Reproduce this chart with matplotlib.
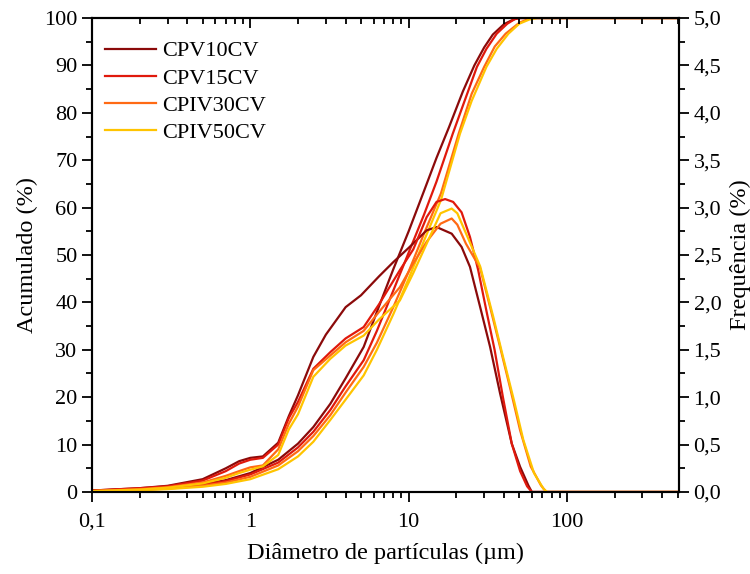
import matplotlib
matplotlib.use("Agg")
import matplotlib.pyplot as plt
from matplotlib.ticker import FixedLocator, LogLocator, MultipleLocator, FuncFormatter, NullFormatter

plt.rcParams["font.family"] = ["Liberation Serif", "DejaVu Serif"]

labels = ["CPV10CV", "CPV15CV", "CPIV30CV", "CPIV50CV"]
colors = ["#8B0A0A", "#E0190C", "#FF6A14", "#FFC400"]

# cumulative curves (left axis, %)
cum_x = [
    [0.1, 0.2, 0.3, 0.5, 0.7, 1.0, 1.5, 2.0, 2.5, 3.2, 4.0, 5.2, 6.3, 8.0, 10, 12.5, 15, 18, 22, 26, 30, 34, 40, 46, 50, 510],
    [0.1, 0.2, 0.3, 0.5, 0.7, 1.0, 1.5, 2.0, 2.5, 3.2, 4.0, 5.2, 6.3, 8.0, 10, 12.5, 15, 19, 22, 27, 31, 36, 42, 47, 51, 510],
    [0.1, 0.2, 0.3, 0.5, 0.7, 1.0, 1.5, 2.0, 2.5, 3.2, 4.0, 5.2, 6.3, 8.0, 10, 12.5, 16, 20.7, 25, 30, 35, 41, 50, 57, 62, 510],
    [0.1, 0.2, 0.3, 0.5, 0.7, 1.0, 1.5, 2.0, 2.5, 3.2, 4.0, 5.2, 6.3, 8.0, 10, 12.5, 16, 21.1, 25, 31, 36, 42.7, 50, 58, 65, 510],
]
cum_y = [
    [0.3, 0.6, 0.9, 1.6, 2.5, 4.0, 6.8, 10.2, 13.7, 18.6, 24.0, 30.6, 38.0, 47.0, 55.0, 63.5, 70.5, 77.0, 84.5, 90.0, 93.8, 96.5, 98.7, 99.7, 100, 100],
    [0.3, 0.55, 0.85, 1.5, 2.3, 3.7, 6.2, 9.4, 12.7, 17.3, 22.3, 27.8, 34.0, 42.5, 50.5, 58.5, 65.5, 75.6, 81.5, 89.7, 93.5, 96.7, 98.8, 99.8, 100, 100],
    [0.2, 0.45, 0.7, 1.3, 2.0, 3.2, 5.6, 8.6, 11.8, 16.2, 21.0, 26.4, 31.5, 39.0, 46.5, 54.5, 63.0, 75.6, 84.0, 89.7, 94.0, 96.7, 99.0, 99.8, 100, 100],
    [0.15, 0.35, 0.6, 1.1, 1.7, 2.7, 4.8, 7.5, 10.6, 15.2, 19.5, 24.6, 30.0, 37.5, 45.0, 53.0, 61.6, 75.6, 82.5, 89.7, 93.5, 96.7, 98.8, 99.7, 100, 100],
]

# frequency curves (right axis, %)
freq_x = [
    [0.1, 0.2, 0.3, 0.5, 0.7, 0.85, 1.0, 1.2, 1.5, 1.75, 2.0, 2.5, 3.0, 4.0, 5.0, 6.5, 8.0, 10, 13, 15, 18.7, 21.6, 24.4, 28.3, 32.7, 37.8, 44.8, 50.6, 57, 60, 510],
    [0.1, 0.2, 0.3, 0.5, 0.7, 0.85, 1.0, 1.2, 1.5, 1.75, 2.0, 2.5, 3.2, 4.0, 5.2, 6.5, 8.8, 10.7, 13, 15, 17, 19.1, 21.6, 24.4, 27.5, 31, 34.9, 39.4, 44.8, 50.6, 56, 60, 510],
    [0.1, 0.2, 0.3, 0.5, 0.7, 0.85, 1.0, 1.2, 1.5, 1.75, 2.0, 2.5, 3.2, 4.0, 5.2, 6.5, 8.8, 10.7, 13, 15.9, 18.7, 20.3, 23, 28.3, 32.7, 37.8, 44, 50.6, 59, 68.5, 74, 510],
    [0.1, 0.2, 0.3, 0.5, 0.7, 0.85, 1.0, 1.2, 1.5, 1.75, 2.0, 2.5, 3.2, 4.0, 5.2, 6.5, 8.8, 10.7, 13, 15.9, 18.7, 20.3, 23, 28.3, 34.2, 39.4, 46.2, 53, 61.9, 71, 75, 510],
]
freq_y = [
    [0.015, 0.04, 0.065, 0.135, 0.25, 0.325, 0.36, 0.375, 0.52, 0.80, 1.02, 1.425, 1.66, 1.95, 2.075, 2.275, 2.425, 2.575, 2.76, 2.795, 2.725, 2.585, 2.375, 1.95, 1.53, 1.04, 0.51, 0.265, 0.07, 0.0, 0.0],
    [0.015, 0.04, 0.06, 0.12, 0.22, 0.30, 0.34, 0.36, 0.50, 0.78, 0.95, 1.30, 1.475, 1.62, 1.74, 1.98, 2.34, 2.56, 2.90, 3.06, 3.09, 3.06, 2.95, 2.69, 2.34, 1.91, 1.50, 1.00, 0.51, 0.22, 0.06, 0.0, 0.0],
    [0.01, 0.03, 0.05, 0.10, 0.17, 0.22, 0.26, 0.28, 0.45, 0.72, 0.90, 1.285, 1.44, 1.58, 1.70, 1.90, 2.16, 2.41, 2.64, 2.83, 2.885, 2.82, 2.62, 2.36, 1.95, 1.53, 1.08, 0.65, 0.27, 0.07, 0.0, 0.0],
    [0.01, 0.025, 0.045, 0.09, 0.15, 0.20, 0.235, 0.27, 0.39, 0.66, 0.82, 1.215, 1.405, 1.545, 1.65, 1.82, 2.02, 2.31, 2.62, 2.94, 2.99, 2.94, 2.73, 2.38, 1.85, 1.43, 0.97, 0.55, 0.20, 0.035, 0.0, 0.0],
]

fig = plt.figure(figsize=(7.5, 5.74), dpi=100)
ax = fig.add_axes([0.1227, 0.1429, 0.7826, 0.8257])
ax2 = ax.twinx()

handles = []
for i in range(4):
    h, = ax.plot(cum_x[i], cum_y[i], color=colors[i], lw=1.6, label=labels[i])
    ax2.plot(freq_x[i], freq_y[i], color=colors[i], lw=1.6)
    handles.append(h)

ax.set_xscale("log")
ax.set_xlim(0.1, 510)
ax.set_ylim(0, 100)
ax2.set_ylim(0, 5)

ax.xaxis.set_major_locator(FixedLocator([0.1, 1, 10, 100]))
ax.xaxis.set_minor_locator(LogLocator(base=10, subs=range(2, 10)))
ax.xaxis.set_minor_formatter(NullFormatter())
ax.xaxis.set_major_formatter(FuncFormatter(lambda v, p: ("%g" % v).replace(".", ",")))
ax.yaxis.set_major_locator(MultipleLocator(10))
ax.yaxis.set_minor_locator(MultipleLocator(5))
ax2.yaxis.set_major_locator(MultipleLocator(0.5))
ax2.yaxis.set_minor_locator(MultipleLocator(0.25))
ax2.yaxis.set_major_formatter(FuncFormatter(lambda v, p: ("%.1f" % v).replace(".", ",")))

for a in (ax, ax2):
    for s in a.spines.values():
        s.set_linewidth(1.5)

ax.tick_params(axis="both", which="major", direction="out", length=7, width=1.3, labelsize=16)
ax.tick_params(axis="both", which="minor", direction="out", length=4, width=1.3)
ax.tick_params(axis="x", top=False, pad=8)
ax.tick_params(axis="y", right=False)
ax2.tick_params(axis="y", which="major", direction="out", length=7, width=1.3, labelsize=16)
ax2.tick_params(axis="y", which="minor", direction="out", length=4, width=1.3)
# top ticks point inward
ax2.xaxis.set_visible(True)
ax2.tick_params(axis="x", which="both", bottom=False, top=True, labelbottom=False,
                labeltop=False, direction="in", width=1.3)
ax2.tick_params(axis="x", which="major", length=7)
ax2.tick_params(axis="x", which="minor", length=4)

ax.set_xlabel("Diâmetro de partículas (µm)", fontsize=17.5, labelpad=8)
ax.set_ylabel("Acumulado (%)", fontsize=17.5, labelpad=4)
ax2.set_ylabel("Frequência (%)", fontsize=17.5, labelpad=6)

ax2.legend(handles=handles, loc="upper left", bbox_to_anchor=(0.0, 0.98), frameon=False,
           fontsize=16, handlelength=2.3, handletextpad=0.25, labelspacing=0.3,
           borderaxespad=0.2)

fig.savefig("out.png", dpi=100)
